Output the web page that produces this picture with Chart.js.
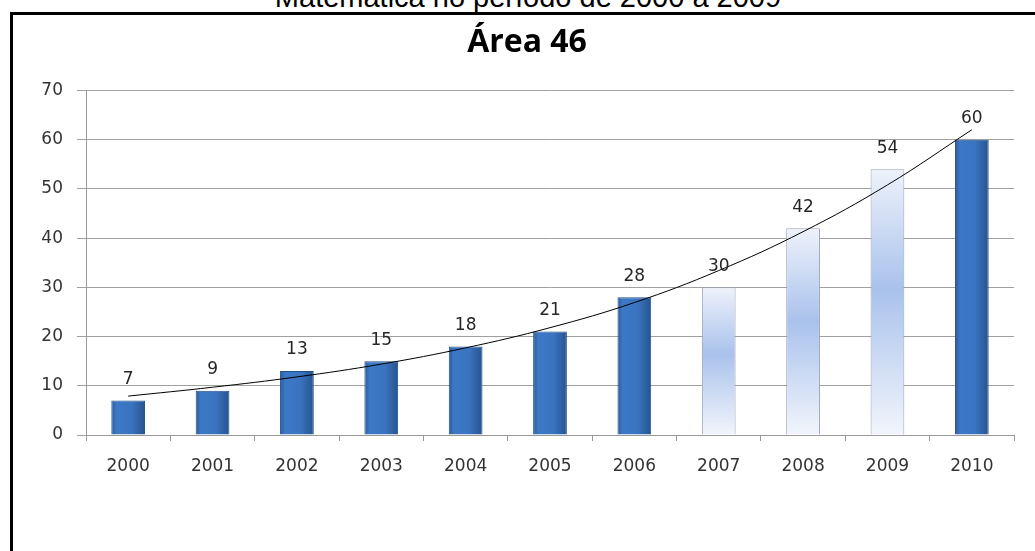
<!DOCTYPE html>
<html>
<head>
<meta charset="utf-8">
<script src="https://cdn.jsdelivr.net/npm/chart.js@4/dist/chart.umd.min.js"></script>
<style>
  html, body { margin: 0; padding: 0; background: #fff; overflow: hidden; }
  #page { position: relative; width: 1035px; height: 551px; overflow: hidden; }
  #cabecalho {
    position: absolute; left: 0; width: 1056px; top: -17px;
    text-align: center; font-family: "Liberation Sans", Arial, sans-serif;
    font-size: 29px; line-height: 29px; color: #000; white-space: nowrap;
  }
  #caixa {
    position: absolute; left: 10px; top: 12px; width: 1100px; height: 600px;
    border: 3px solid #000; box-sizing: border-box;
  }
  #wrap { position: absolute; left: 0; top: 0; width: 1035px; height: 551px; }
</style>
</head>
<body>
<div id="page">
  <div id="cabecalho">Matemática no período de 2000 a 2009</div>
  <div id="caixa"></div>
  <div id="wrap"><canvas id="grafico"></canvas></div>
</div>
<script>
// Dados
const anos = ['2000', '2001', '2002', '2003', '2004', '2005', '2006', '2007', '2008', '2009', '2010'];
const valores = [7, 9, 13, 15, 18, 21, 28, 30, 42, 54, 60];
// barras claras (2007-2009)
const destaque = [false, false, false, false, false, false, false, true, true, true, false];
// linha de tendência
const tendencia = [7.9, 9.7, 11.8, 14.4, 17.7, 21.8, 26.9, 33.4, 41.3, 50.8, 62];
const yTicks = [0, 10, 20, 30, 40, 50, 60, 70];

const fonteTitulo = '"Open Sans", Lato, sans-serif';
const fonteEixo = '"DejaVu Sans", "Open Sans", sans-serif';

function larguraBarra(chart) {
  return chart.scales.x.width / anos.length * 0.4;
}

function corBarra(ctx) {
  const chart = ctx.chart;
  if (!chart.chartArea || !chart.scales.x) return destaque[ctx.dataIndex] ? '#c5d5f0' : '#3a72bf';
  const c = chart.ctx;
  const x = chart.scales.x.getPixelForValue(ctx.dataIndex);
  const w = larguraBarra(chart);
  if (destaque[ctx.dataIndex]) {
    const topo = chart.scales.y.getPixelForValue(valores[ctx.dataIndex]);
    const base = chart.scales.y.getPixelForValue(0);
    const g = c.createLinearGradient(0, topo, 0, base);
    g.addColorStop(0, '#eef2fb');
    g.addColorStop(0.45, '#a9c2ec');
    g.addColorStop(1, '#f2f5fc');
    return g;
  }
  const g = c.createLinearGradient(x - w / 2, 0, x + w / 2, 0);
  g.addColorStop(0, '#2a5a9c');
  g.addColorStop(0.15, '#3b78c6');
  g.addColorStop(0.6, '#3a74c0');
  g.addColorStop(1, '#26538f');
  return g;
}

// rótulos de valor acima das barras
const rotulos = {
  id: 'rotulos',
  afterDatasetsDraw(chart) {
    const c = chart.ctx;
    const meta = chart.getDatasetMeta(1);
    c.save();
    c.font = '17px ' + fonteEixo;
    c.fillStyle = '#262626';
    c.textAlign = 'center';
    c.textBaseline = 'middle';
    meta.data.forEach((bar, i) => {
      c.fillText(String(valores[i]), bar.x, bar.y - 21);
    });
    c.restore();
  }
};

const ctxGrafico = document.getElementById('grafico').getContext('2d');
const grafico = new Chart(ctxGrafico, {
  data: {
    labels: anos,
    datasets: [{
      type: 'line',
      data: tendencia,
      borderColor: '#000',
      borderWidth: 1,
      pointRadius: 0,
      tension: 0.4,
      fill: false,
      order: 0
    }, {
      type: 'bar',
      data: valores,
      backgroundColor: corBarra,
      borderColor: destaque.map(d => d ? '#9aa3b4' : '#24508a'),
      borderWidth: 1,
      barPercentage: 0.5,
      categoryPercentage: 0.8,
      order: 1
    }]
  },
  options: {
    responsive: true,
    maintainAspectRatio: false,
    animation: false,
    layout: { padding: { left: 40, right: 21, top: 24, bottom: 0 } },
    plugins: {
      legend: { display: false },
      tooltip: { enabled: false },
      title: {
        display: true,
        text: 'Área 46',
        color: '#000',
        font: { family: fonteTitulo, size: 32, weight: 'bold' },
        padding: { top: 0, bottom: 28 }
      }
    },
    scales: {
      x: {
        offset: true,
        grid: { offset: true, drawOnChartArea: false, color: '#999', tickLength: 6 },
        border: { color: '#999' },
        ticks: { color: '#333', font: { family: fonteEixo, size: 17 }, padding: 15 },
        afterFit(scale) { scale.height = 116; }
      },
      y: {
        min: 0,
        max: 70,
        afterBuildTicks(scale) { scale.ticks = yTicks.map(v => ({ value: v })); },
        grid: { color: '#a0a0a0', tickLength: 9 },
        border: { color: '#999' },
        ticks: { color: '#333', font: { family: fonteEixo, size: 17 }, padding: 14 },
        afterFit(scale) { scale.width = 46; }
      }
    }
  },
  plugins: [rotulos]
});
</script>
</body>
</html>
